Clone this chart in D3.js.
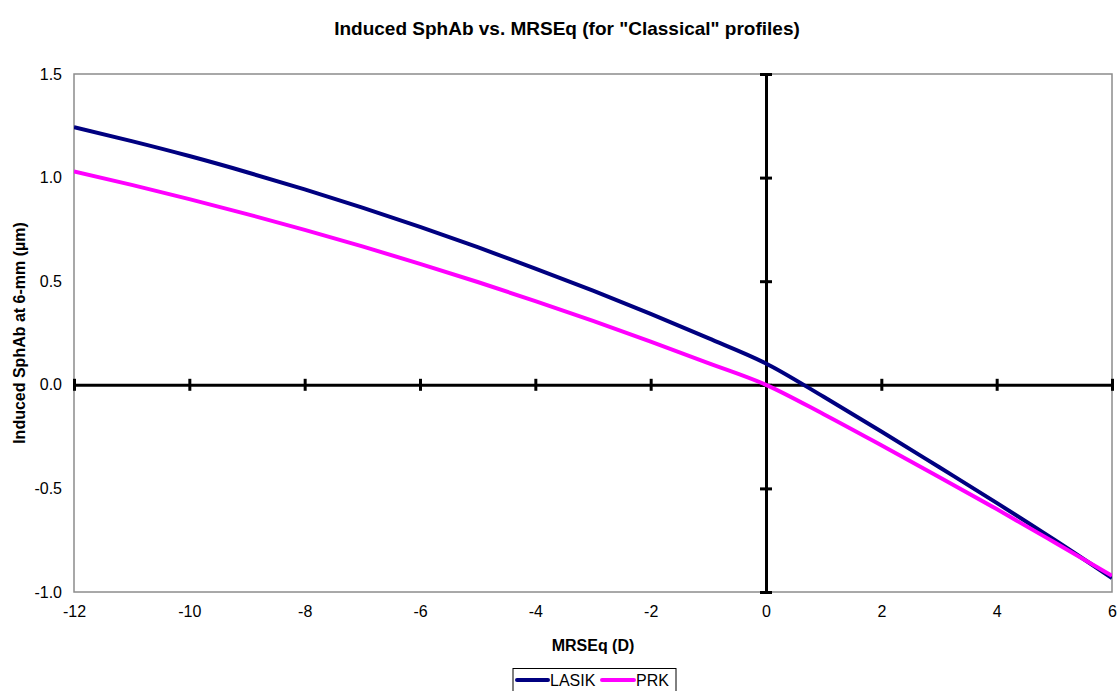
<!DOCTYPE html>
<html>
<head>
<meta charset="utf-8">
<script src="https://cdn.jsdelivr.net/npm/d3@7"></script>
<style>
  html, body { margin: 0; padding: 0; background: #fff; }
  svg { display: block; font-family: "Liberation Sans", Arial, sans-serif; }
</style>
</head>
<body>
<svg id="chart" width="1117" height="691"></svg>
<script>
const mrseq = [-12, -11, -10, -9, -8, -7, -6, -5, -4, -3, -2, -1, 0, 1, 2, 3, 4, 5, 6];
const lasik = [1.243, 1.176, 1.104, 1.026, 0.943, 0.855, 0.762, 0.664, 0.561, 0.454, 0.342, 0.225, 0.103, -0.058, -0.225, -0.397, -0.570, -0.748, -0.933];
const prk   = [1.030, 0.965, 0.896, 0.824, 0.748, 0.668, 0.584, 0.496, 0.404, 0.308, 0.208, 0.105, 0.000, -0.142, -0.292, -0.445, -0.600, -0.760, -0.922];
const xTicks = [-12, -10, -8, -6, -4, -2, 0, 2, 4, 6];
const yTicks = [-1.0, -0.5, 0.0, 0.5, 1.0, 1.5];
const seriesNames = ["LASIK", "PRK"];
const seriesColors = ["#000080", "#FF00FF"];

const svg = d3.select("#chart");
const L = 74, R = 1112, T = 74, B = 592;

const x = d3.scaleLinear().domain([-12, 6]).range([L, R]);
const y = d3.scaleLinear().domain([-1, 1.5]).range([B, T]);

// title
svg.append("text").attr("x", 567).attr("y", 35).attr("text-anchor", "middle")
  .attr("font-weight", "bold").attr("font-size", 19)
  .text("Induced SphAb vs. MRSEq (for \"Classical\" profiles)");

// plot area border
svg.append("rect").attr("x", L).attr("y", T).attr("width", R - L).attr("height", B - T)
  .attr("fill", "none").attr("stroke", "#8c8c8c").attr("stroke-width", 1.5);

// tick labels at plot edges
const yLab = svg.append("g").attr("transform", `translate(${L},0)`)
  .call(d3.axisLeft(y).tickValues(yTicks).tickFormat(d => d.toFixed(1)).tickSize(0).tickPadding(12));
yLab.select(".domain").remove();
yLab.selectAll("text").attr("font-size", 16).attr("font-family", "Liberation Sans, Arial, sans-serif").attr("fill", "#000");

const xLab = svg.append("g").attr("transform", `translate(0,${B})`)
  .call(d3.axisBottom(x).tickValues(xTicks).tickFormat(d => String(d)).tickSize(0).tickPadding(14));
xLab.select(".domain").remove();
xLab.selectAll("text").attr("font-size", 16).attr("font-family", "Liberation Sans, Arial, sans-serif").attr("fill", "#000");

// crossing axes at zero
const xAx = svg.append("g").attr("transform", `translate(0,${y(0)})`)
  .call(d3.axisBottom(x).tickValues(xTicks).tickFormat("").tickSizeOuter(0));
xAx.select(".domain").attr("stroke", "#000").attr("stroke-width", 3);
xAx.selectAll(".tick line").attr("y1", -6).attr("y2", 6).attr("stroke", "#000").attr("stroke-width", 3);

const yAx = svg.append("g").attr("transform", `translate(${x(0)},0)`)
  .call(d3.axisLeft(y).tickValues(yTicks).tickFormat("").tickSizeOuter(0));
yAx.select(".domain").attr("stroke", "#000").attr("stroke-width", 3);
yAx.selectAll(".tick line").attr("x1", -6).attr("x2", 6).attr("stroke", "#000").attr("stroke-width", 3);

// axis titles
svg.append("text").attr("x", (L + R) / 2).attr("y", 651).attr("text-anchor", "middle")
  .attr("font-weight", "bold").attr("font-size", 16).text("MRSEq (D)");
svg.append("text").attr("transform", `translate(25,${(T + B) / 2}) rotate(-90)`).attr("text-anchor", "middle")
  .attr("font-weight", "bold").attr("font-size", 16).text("Induced SphAb at 6-mm (µm)");

// lines
svg.append("clipPath").attr("id", "clip").append("rect")
  .attr("x", L).attr("y", T - 2).attr("width", R - L).attr("height", B - T + 4);
const line = d3.line().x(d => x(d[0])).y(d => y(d[1])).curve(d3.curveMonotoneX);
[lasik, prk].forEach((vals, i) => {
  svg.append("path").datum(mrseq.map((m, j) => [m, vals[j]]))
    .attr("clip-path", "url(#clip)")
    .attr("fill", "none").attr("stroke", seriesColors[i]).attr("stroke-width", 4)
    .attr("stroke-linejoin", "round").attr("d", line);
});

// legend
const lg = svg.append("g");
lg.append("rect").attr("x", 513).attr("y", 668.5).attr("width", 163).attr("height", 30)
  .attr("fill", "#fff").attr("stroke", "#000").attr("stroke-width", 1);
const lgItems = [{ x0: 517, x1: 548, tx: 550 }, { x0: 602, x1: 634, tx: 636 }];
lgItems.forEach((it, i) => {
  lg.append("line").attr("x1", it.x0).attr("x2", it.x1).attr("y1", 680).attr("y2", 680)
    .attr("stroke", seriesColors[i]).attr("stroke-width", 4).attr("stroke-linecap", "round");
  lg.append("text").attr("x", it.tx).attr("y", 686).attr("font-size", 16).text(seriesNames[i]);
});
</script>
</body>
</html>
